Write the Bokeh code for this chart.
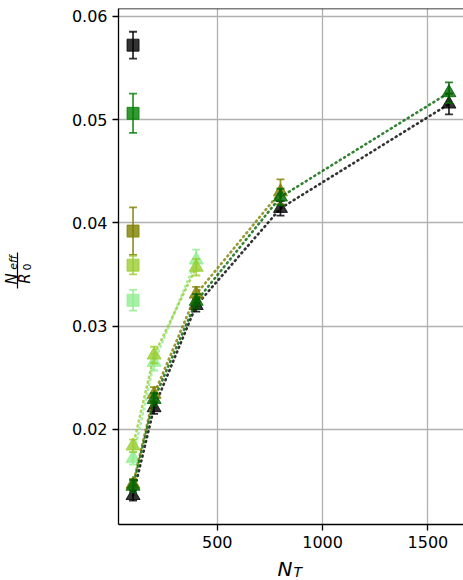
import math
from bokeh.plotting import figure
from bokeh.layouts import row, column
from bokeh.models import Range1d, FixedTicker, Span, PrintfTickFormatter
from bokeh.core.properties import value
from bokeh.embed import file_html
from bokeh.resources import INLINE

# ---- data ----
nt = [100, 200, 400, 800, 1600]

black_tri = [0.0136, 0.0221, 0.0320, 0.0414, 0.0515]
black_tri_err = [0.0005, 0.0006, 0.0006, 0.0007, 0.0010]
dgreen_tri = [0.0145, 0.0229, 0.0324, 0.0425, 0.0526]
dgreen_tri_err = [0.0006, 0.0006, 0.0007, 0.0008, 0.0010]
olive_tri = [0.0147, 0.0234, 0.0331, 0.0430]
olive_tri_err = [0.0005, 0.0007, 0.0007, 0.0012]
ygreen_tri = [0.0184, 0.0272, 0.0357]
ygreen_tri_err = [0.0006, 0.0008, 0.0008]
lgreen_tri = [0.0172, 0.0265, 0.0364]
lgreen_tri_err = [0.0006, 0.0008, 0.0010]

sq_x = 100
sq_vals = [0.0572, 0.0506, 0.0392, 0.0359, 0.0325]
sq_errs = [0.0013, 0.0019, 0.0023, 0.0009, 0.0010]
sq_colors = ["black", "green", "olive", "yellowgreen", "lightgreen"]

x_ticks = [500, 1000, 1500]
y_ticks = [0.02, 0.03, 0.04, 0.05, 0.06]

x_label_main, x_label_sub = "N", "T"
y_num_main, y_num_sub = "N", "eff"
y_den_main, y_den_sub = "R", "0"

FONT = "DejaVu Sans"

# ---- layout sizes ----
TOT_W, TOT_H = 463, 580
LEFT_W = 40                 # y-label strip
MAIN_W = TOT_W - LEFT_W
MAIN_H = 556
BOT_H = TOT_H - MAIN_H      # x-label strip
FRAME_L = 118
X0, X1 = 31, 1669
Y0, Y1 = 0.01079, 0.06075


def blank(w, h, xr, yr, left=0):
    f = figure(width=w, height=h, output_backend="svg", toolbar_location=None,
               x_range=Range1d(*xr), y_range=Range1d(*yr),
               x_axis_type=None, y_axis_type=None,
               min_border_left=left, min_border_right=0, min_border_top=0, min_border_bottom=0)
    f.outline_line_color = None
    f.xgrid.visible = False
    f.ygrid.visible = False
    return f


# ---- main plot ----
p = figure(width=MAIN_W, height=MAIN_H, output_backend="svg", toolbar_location=None,
           x_range=Range1d(X0, X1), y_range=Range1d(Y0, Y1),
           min_border_left=FRAME_L - LEFT_W, min_border_right=0, min_border_top=8,
           min_border_bottom=MAIN_H - 524)
p.outline_line_color = None

for ax in (p.xaxis, p.yaxis):
    ax.major_label_text_font = FONT
    ax.major_label_text_font_size = "16px"
    ax.major_label_text_color = "black"
    ax.axis_line_color = "black"
    ax.axis_line_width = 1.3
    ax.major_tick_line_color = "black"
    ax.major_tick_line_width = 1.3
    ax.major_tick_out = 6
    ax.major_tick_in = 0
    ax.minor_tick_line_color = None
    ax.major_label_standoff = 5
p.xaxis.ticker = FixedTicker(ticks=x_ticks)
p.yaxis.ticker = FixedTicker(ticks=y_ticks)
p.yaxis.formatter = PrintfTickFormatter(format="%.2f")
p.xaxis.formatter = PrintfTickFormatter(format="%d")

p.xgrid.ticker = FixedTicker(ticks=x_ticks)
p.ygrid.ticker = FixedTicker(ticks=y_ticks)
for g in (p.xgrid, p.ygrid):
    g.grid_line_color = "#b0b0b0"
    g.grid_line_width = 1.3

# top spine
p.add_layout(Span(location=Y1, dimension="width", line_color="black", line_width=1.3))

ALPHA = 0.8


def errbars(xs, ys, es, color):
    lo = [y - e for y, e in zip(ys, es)]
    hi = [y + e for y, e in zip(ys, es)]
    p.segment(xs, lo, xs, hi, line_color=color, line_width=1.8, line_alpha=ALPHA)
    p.dash(xs, lo, size=8, line_color=color, line_width=1.8, line_alpha=ALPHA)
    p.dash(xs, hi, size=8, line_color=color, line_width=1.8, line_alpha=ALPHA)


series = [
    (lgreen_tri, lgreen_tri_err, "lightgreen"),
    (ygreen_tri, ygreen_tri_err, "yellowgreen"),
    (black_tri, black_tri_err, "black"),
    (olive_tri, olive_tri_err, "olive"),
    (dgreen_tri, dgreen_tri_err, "darkgreen"),
]
for ys, es, c in series:
    xs = nt[:len(ys)]
    p.line(xs, ys, line_color=c, line_width=2.6, line_dash="1 4", line_cap="round", line_alpha=ALPHA)
    errbars(xs, ys, es, c)
    p.scatter(xs, ys, marker="triangle", size=14, fill_color=c, line_color=c,
              fill_alpha=ALPHA, line_alpha=ALPHA)

for v, e, c in zip(sq_vals, sq_errs, sq_colors):
    errbars([sq_x], [v], [e], c)
    p.scatter([sq_x], [v], marker="square", size=12, fill_color=c, line_color=c,
              fill_alpha=ALPHA, line_alpha=ALPHA)

# ---- y label strip (page pixel coordinates, y measured from the bottom) ----
yl = blank(LEFT_W, TOT_H, (0, LEFT_W), (0, TOT_H))
rot = math.pi / 2


def ytxt(x, py, t, size, italic=True):
    yl.text(x=[x], y=[TOT_H - py], text=[t], text_font=value(FONT), text_font_size=size,
            text_font_style="italic" if italic else "normal", angle=rot,
            text_align="center", text_baseline="middle", text_color="black")


ytxt(11, 278.5, y_num_main, "15px")
ytxt(12.8, 262, y_num_sub, "11px")
yl.segment(x0=[17], y0=[TOT_H - 288], x1=[17], y1=[TOT_H - 252], line_color="black", line_width=1.2)
ytxt(24.5, 278, y_den_main, "15px")
ytxt(26, 266.5, y_den_sub, "11px", italic=False)

# ---- x label strip (frame aligned with main frame: page x 118..463) ----
xl = blank(MAIN_W, BOT_H, (FRAME_L, TOT_W), (0, BOT_H), left=FRAME_L - LEFT_W)
xl.text(x=[277], y=[TOT_H - 568.5], text=[x_label_main], text_font=value(FONT),
        text_font_size="20px", text_font_style="italic", text_align="left",
        text_baseline="alphabetic", text_color="black")
xl.text(x=[293], y=[TOT_H - 571], text=[x_label_sub], text_font=value(FONT),
        text_font_size="14px", text_font_style="italic", text_align="left",
        text_baseline="alphabetic", text_color="black")

layout = row(yl, column(p, xl, spacing=0), spacing=0)
open("out.html", "w").write(file_html(layout, INLINE))
